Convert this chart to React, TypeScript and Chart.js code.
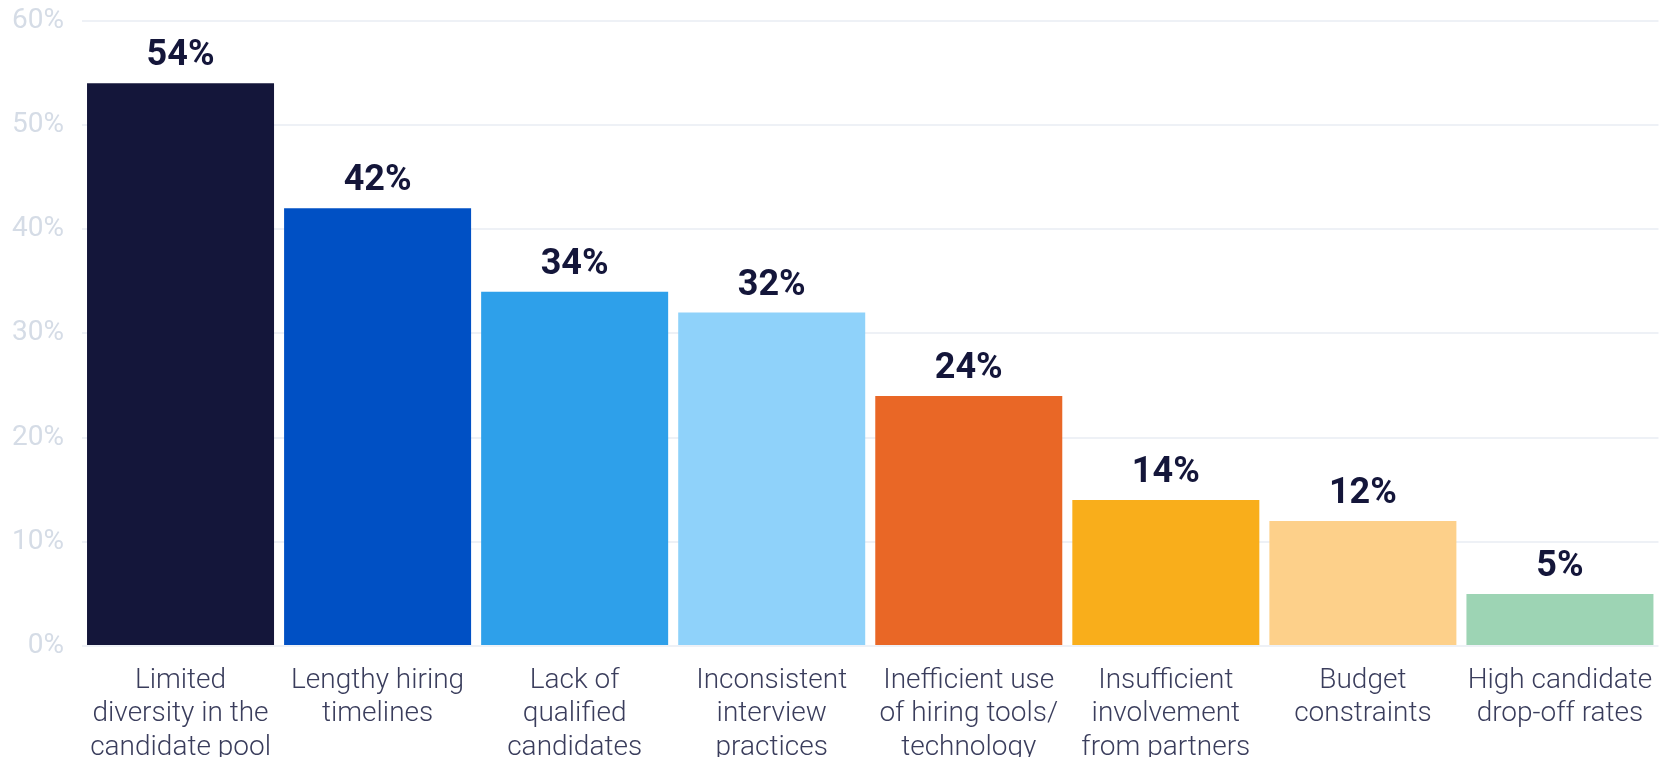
import React, { useEffect, useRef } from "react";
import { Chart, registerables } from "chart.js";

Chart.register(...registerables);

const categories: string[][] = [
  ["Limited", "diversity in the", "candidate pool"],
  ["Lengthy hiring", "timelines"],
  ["Lack of", "qualified", "candidates"],
  ["Inconsistent", "interview", "practices"],
  ["Inefficient use", "of hiring tools/", "technology"],
  ["Insufficient", "involvement", "from partners"],
  ["Budget", "constraints"],
  ["High candidate", "drop-off rates"],
];

const values: number[] = [54, 42, 34, 32, 24, 14, 12, 5];

const barColors: string[] = [
  "#14163a",
  "#0050c4",
  "#2ea0ea",
  "#8fd2fa",
  "#e96726",
  "#f9ae1b",
  "#fdd08a",
  "#9dd4b4",
];

const yTicks: number[] = [0, 10, 20, 30, 40, 50, 60];

const valueLabelPlugin = {
  id: "valueLabels",
  afterDatasetsDraw(chart: any) {
    const ctx = chart.ctx;
    const meta = chart.getDatasetMeta(0);
    ctx.save();
    ctx.font = "bold 36px Roboto";
    ctx.fillStyle = "#14163a";
    ctx.textAlign = "center";
    ctx.textBaseline = "alphabetic";
    meta.data.forEach((bar: any, i: number) => {
      ctx.fillText(values[i] + "%", bar.x, bar.y - 18);
    });
    ctx.restore();
  },
};

export default function App() {
  const ref = useRef<HTMLCanvasElement | null>(null);

  useEffect(() => {
    if (!ref.current) return;
    const chart = new Chart(ref.current, {
      type: "bar",
      data: {
        labels: categories,
        datasets: [
          {
            data: values,
            backgroundColor: barColors,
            borderWidth: 0,
            barPercentage: 0.949,
            categoryPercentage: 1,
          },
        ],
      },
      options: {
        animation: false,
        responsive: false,
        maintainAspectRatio: false,
        layout: { padding: { top: 8, right: 12, bottom: 0, left: 0 } },
        plugins: {
          legend: { display: false },
          tooltip: { enabled: false },
        },
        scales: {
          x: {
            grid: { display: false, drawTicks: false },
            border: { display: false },
            ticks: {
              color: "#3a3d5c",
              font: { family: "Roboto", size: 28, weight: 300, lineHeight: 1.2 },
              padding: 18,
              maxRotation: 0,
              autoSkip: false,
            },
            afterFit(scale: any) {
              scale.height = 130;
            },
          },
          y: {
            min: 0,
            max: 60,
            afterBuildTicks(scale: any) {
              scale.ticks = yTicks.map((v) => ({ value: v }));
            },
            grid: { color: "#eef1f6", lineWidth: 2, drawTicks: false },
            border: { display: false },
            ticks: {
              color: "#d5dce6",
              font: { family: "Roboto", size: 28 },
              padding: 18,
              callback: (v: any) => v + "%",
            },
            afterFit(scale: any) {
              scale.width = 82;
            },
          },
        },
      },
      plugins: [valueLabelPlugin],
    });
    return () => chart.destroy();
  }, []);

  return (
    <div style={{ position: "absolute", left: 0, top: -14, width: 1671, height: 790, background: "#fff" }}>
      <canvas ref={ref} width={1671} height={790} style={{ display: "block" }} />
    </div>
  );
}
